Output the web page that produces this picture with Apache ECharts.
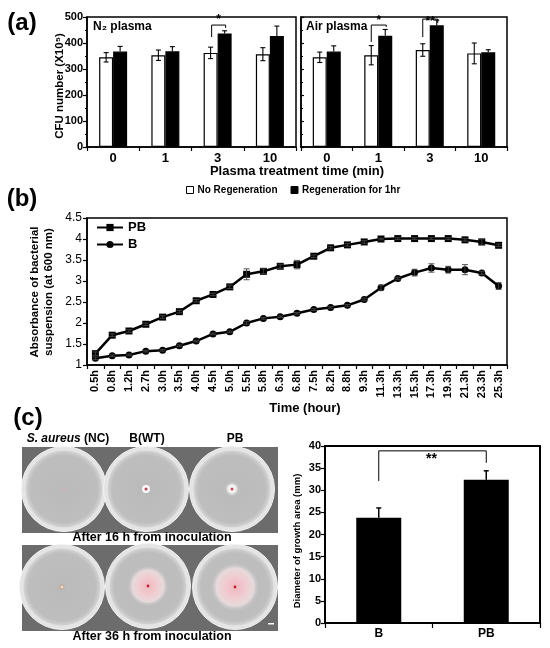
<!DOCTYPE html>
<html><head><meta charset="utf-8">
<script src="https://cdn.jsdelivr.net/npm/echarts@6/dist/echarts.min.js"></script>
<style>html,body{margin:0;padding:0;background:#fff}#c{width:550px;height:648px}</style>
</head><body><div id="c"></div>
<script>
// ---------- DATA ----------
const catA = ['0', '1', '3', '10'];
const n2No = [345, 353, 362, 357];
const n2NoErr = [18, 20, 22, 25];
const n2Reg = [367, 368, 437, 427];
const n2RegErr = [20, 18, 10, 38];
const airNo = [345, 353, 373, 360];
const airNoErr = [20, 37, 24, 40];
const airReg = [367, 428, 468, 364];
const airRegErr = [22, 24, 20, 10];
// [category index, bracket top, left leg bottom, right leg bottom]
const n2Brackets = [[2, 469, 423, 458]];
const n2BracketLabels = ['*'];
const airBrackets = [[1, 469, 404, 462], [2, 492, 423, 477]];
const airBracketLabels = ['*', '**'];

const times = ['0.5h','0.8h','1.2h','2.7h','3.0h','3.5h','4.0h','4.5h','5.0h','5.5h','5.8h','6.3h','6.8h','7.5h','8.2h','8.8h','9.3h','11.3h','13.3h','15.3h','17.3h','19.3h','21.3h','23.3h','25.3h'];
const pb = [1.27, 1.71, 1.81, 1.97, 2.14, 2.27, 2.53, 2.68, 2.86, 3.16, 3.23, 3.35, 3.39, 3.59, 3.79, 3.86, 3.93, 4.00, 4.01, 4.01, 4.01, 4.01, 3.98, 3.93, 3.85];
const pbErr = [0.04, 0.03, 0.03, 0.03, 0.03, 0.03, 0.03, 0.03, 0.04, 0.13, 0.06, 0.05, 0.10, 0.03, 0.03, 0.03, 0.03, 0.02, 0.02, 0.02, 0.02, 0.02, 0.03, 0.07, 0.03];
const bb = [1.16, 1.22, 1.24, 1.33, 1.35, 1.46, 1.57, 1.74, 1.79, 2.00, 2.11, 2.15, 2.23, 2.32, 2.37, 2.42, 2.56, 2.84, 3.06, 3.20, 3.31, 3.27, 3.27, 3.19, 2.88];
const bbErr = [0.03, 0.02, 0.02, 0.02, 0.02, 0.02, 0.02, 0.02, 0.02, 0.03, 0.02, 0.02, 0.02, 0.02, 0.02, 0.02, 0.03, 0.06, 0.03, 0.08, 0.10, 0.08, 0.12, 0.04, 0.08];

const catC = ['B', 'PB'];
const diam = [23.8, 32.4];
const diamErr = [2.2, 2.0];
// [category index, top, left leg bottom, right leg bottom]
const cBracket = [[0, 38.9, 32.1, 36.2]];
const cBracketLabels = ['**'];

// ---------- HELPERS ----------
const FF = '"Liberation Sans", Arial, sans-serif';
function errRender(offset, cap, color, lw, upperOnly) {
  return function (params, api) {
    const i = api.value(0), v = api.value(1), e = api.value(2);
    const top = api.coord([i, v + e]);
    const bot = api.coord([i, upperOnly ? v : v - e]);
    const x = top[0] + offset;
    const st = { stroke: color, lineWidth: lw };
    const ch = [
      { type: 'line', shape: { x1: x, y1: top[1], x2: x, y2: bot[1] }, style: st },
      { type: 'line', shape: { x1: x - cap, y1: top[1], x2: x + cap, y2: top[1] }, style: st }
    ];
    if (!upperOnly) ch.push({ type: 'line', shape: { x1: x - cap, y1: bot[1], x2: x + cap, y2: bot[1] }, style: st });
    return { type: 'group', children: ch };
  };
}
function bracketRender(labels, dxL, dxR, labelDy) {
  return function (params, api) {
    const i = api.value(0);
    const t = api.coord([i, api.value(1)]);
    const l = api.coord([i, api.value(2)]);
    const r = api.coord([i, api.value(3)]);
    const xl = t[0] + dxL, xr = t[0] + dxR;
    const dy = labelDy[params.dataIndex];
    return { type: 'group', children: [
      { type: 'polyline', shape: { points: [[xl, l[1]], [xl, t[1]], [xr, t[1]], [xr, r[1]]] }, style: { stroke: '#000', lineWidth: 1, fill: null } },
      { type: 'text', x: (xl + xr) / 2, y: t[1] + dy, style: { text: labels[params.dataIndex], font: 'bold 12px ' + FF, fill: '#000', textAlign: 'center', textVerticalAlign: 'middle' } }
    ] };
  };
}
function cBracketRender(params, api) {
  const t0 = api.coord([0, api.value(1)]);
  const l = api.coord([0, api.value(2)]);
  const r = api.coord([1, api.value(3)]);
  const xl = t0[0], xr = r[0];
  return { type: 'group', children: [
    { type: 'polyline', shape: { points: [[xl, l[1]], [xl, t0[1]], [xr, t0[1]], [xr, r[1]]] }, style: { stroke: '#000', lineWidth: 1, fill: null } },
    { type: 'text', x: (xl + xr) / 2 - 1, y: t0[1] + 8, style: { text: cBracketLabels[params.dataIndex], font: 'bold 14px ' + FF, fill: '#000', textAlign: 'center', textVerticalAlign: 'middle' } }
  ] };
}
const tri = (vals, errs) => vals.map((v, k) => [k, v, errs[k]]);

const axLine = { show: true, lineStyle: { color: '#000', width: 1.5 } };
const tick = (len, inside) => ({ show: true, length: len, inside: !!inside, lineStyle: { color: '#000', width: 1.2 } });
const lbl = (fs, bold) => ({ fontSize: fs, fontWeight: bold ? 'bold' : 'normal', color: '#000', fontFamily: FF });

// ---------- PETRI DISH PHOTO (decorative) ----------
const graphics = [];
function txt(x, y, text, font, extra) {
  graphics.push(Object.assign({ type: 'text', x: x, y: y, style: { text: text, font: font, fill: '#000', textAlign: 'center', textVerticalAlign: 'middle' }, z: 100 }, extra || {}));
}
[[22, 447], [22, 545]].forEach(p => graphics.push({ type: 'rect', shape: { x: p[0], y: p[1], width: 256, height: 86 }, style: { fill: '#6c6c6c' }, z: 1 }));
const dishPos = [[64, 489], [146, 489], [232, 489], [62, 587], [148, 586], [235, 587]];
dishPos.forEach(p => {
  graphics.push({ type: 'circle', shape: { cx: p[0], cy: p[1], r: 42.5 }, style: { fill: '#e4e4e4', stroke: '#f2f2f2', lineWidth: 1 }, z: 2 });
  graphics.push({ type: 'circle', shape: { cx: p[0], cy: p[1], r: 38.5 }, style: { fill: { type: 'radial', x: 0.5, y: 0.5, r: 0.5, colorStops: [{ offset: 0, color: '#bababa' }, { offset: 0.88, color: '#bebebe' }, { offset: 1, color: '#d4d4d4' }] } }, z: 3 });
});
// growth spots
graphics.push({ type: 'circle', shape: { cx: 64, cy: 489, r: 1 }, style: { fill: '#e8b0a8' }, z: 5 });
graphics.push({ type: 'circle', shape: { cx: 146, cy: 489, r: 4 }, style: { fill: '#fafafa' }, z: 5 });
graphics.push({ type: 'circle', shape: { cx: 146, cy: 489, r: 1.5 }, style: { fill: '#c04050' }, z: 6 });
graphics.push({ type: 'circle', shape: { cx: 232, cy: 489, r: 8 }, style: { fill: { type: 'radial', x: 0.5, y: 0.5, r: 0.5, colorStops: [{ offset: 0, color: '#ffffff' }, { offset: 0.5, color: '#eeeeee' }, { offset: 1, color: 'rgba(186,186,186,0)' }] } }, z: 5 });
graphics.push({ type: 'circle', shape: { cx: 232, cy: 489, r: 1.5 }, style: { fill: '#d04050' }, z: 6 });
graphics.push({ type: 'circle', shape: { cx: 62, cy: 587, r: 2 }, style: { fill: '#f0e0d0', stroke: '#c09070', lineWidth: 0.8 }, z: 5 });
[[148, 586, 21], [235, 587, 25]].forEach(h => {
  graphics.push({ type: 'circle', shape: { cx: h[0], cy: h[1], r: h[2] }, style: { fill: { type: 'radial', x: 0.5, y: 0.5, r: 0.5, colorStops: [{ offset: 0, color: '#f0b8be' }, { offset: 0.45, color: '#f0ccd0' }, { offset: 0.75, color: '#e6dadb' }, { offset: 1, color: 'rgba(190,190,190,0)' }] } }, z: 5 });
  graphics.push({ type: 'circle', shape: { cx: h[0], cy: h[1], r: 1.4 }, style: { fill: '#c02030' }, z: 6 });
});
graphics.push({ type: 'rect', shape: { x: 268, y: 623, width: 6, height: 1.5 }, style: { fill: '#fff' }, z: 6 });

// texts
txt(22, 23, '(a)', 'bold 24px ' + FF);
txt(22, 199, '(b)', 'bold 24px ' + FF);
txt(28, 418, '(c)', 'bold 24px ' + FF);
graphics.push({ type: 'text', x: 93, y: 27, style: { text: 'N₂ plasma', font: 'bold 12px ' + FF, fill: '#000', textAlign: 'left', textVerticalAlign: 'middle' }, z: 100 });
graphics.push({ type: 'text', x: 306, y: 27, style: { text: 'Air plasma', font: 'bold 12px ' + FF, fill: '#000', textAlign: 'left', textVerticalAlign: 'middle' }, z: 100 });
txt(297, 171, 'Plasma treatment time (min)', 'bold 13px ' + FF);
txt(60, 86, 'CFU number (X10⁵)', 'bold 11.5px ' + FF, { rotation: Math.PI / 2 });
txt(42, 292, 'Absorbance of bacterial\nsuspension (at 600 nm)', 'bold 11.5px ' + FF, { rotation: Math.PI / 2 });
graphics[graphics.length - 1].style.lineHeight = 14;
txt(305, 408, 'Time (hour)', 'bold 13px ' + FF);
txt(297, 541, 'Diameter of growth area (mm)', 'bold 9.5px ' + FF, { rotation: Math.PI / 2 });
graphics.push({ type: 'text', x: 68, y: 439, style: { rich: { i: { fontStyle: 'italic', fontWeight: 'bold', fontSize: 12, fontFamily: FF }, n: { fontWeight: 'bold', fontSize: 12, fontFamily: FF } }, text: '{i|S. aureus} {n|(NC)}', fill: '#000', textAlign: 'center', textVerticalAlign: 'middle' }, z: 100 });
txt(147, 439, 'B(WT)', 'bold 12px ' + FF);
txt(235, 439, 'PB', 'bold 12px ' + FF);
txt(152, 538, 'After 16 h from inoculation', 'bold 12.5px ' + FF);
txt(152, 637, 'After 36 h from inoculation', 'bold 12.5px ' + FF);

// ---------- OPTION ----------
const gridBase = { show: true, borderColor: '#000', borderWidth: 1.5, backgroundColor: 'transparent', containLabel: false };
const option = {
  animation: false,
  backgroundColor: '#fff',
  textStyle: { fontFamily: FF },
  graphic: graphics,
  legend: [
    { data: ['No Regeneration', 'Regeneration for 1hr'], left: 186, top: 185, padding: 0, itemWidth: 7, itemHeight: 7, itemGap: 13, icon: 'rect', selectedMode: false, itemStyle: { borderColor: '#000', borderWidth: 1 }, textStyle: { fontSize: 10, fontWeight: 'bold', color: '#000', fontFamily: FF, padding: [0, 0, 0, -1] } },
    { data: ['PB', 'B'], orient: 'vertical', left: 96, top: 221, padding: 0, itemWidth: 26, itemHeight: 9, itemGap: 4, selectedMode: false, textStyle: { fontSize: 13, fontWeight: 'bold', color: '#000', fontFamily: FF } }
  ],
  grid: [
    Object.assign({ left: 87, top: 17, width: 209, height: 130 }, gridBase),
    Object.assign({ left: 301, top: 17, width: 206, height: 130 }, gridBase),
    Object.assign({ left: 87, top: 218, width: 420, height: 147 }, gridBase),
    Object.assign({ left: 325, top: 446, width: 215, height: 177 }, gridBase, { borderWidth: 2 })
  ],
  xAxis: [
    { gridIndex: 0, type: 'category', data: catA, axisLine: axLine, axisTick: tick(4), axisLabel: Object.assign(lbl(13, true), { margin: 5 }) },
    { gridIndex: 1, type: 'category', data: catA, axisLine: axLine, axisTick: tick(4), axisLabel: Object.assign(lbl(13, true), { margin: 5 }) },
    { gridIndex: 2, type: 'category', data: times, axisLine: axLine, axisTick: tick(4), axisLabel: Object.assign(lbl(11, true), { rotate: 90, interval: 0, margin: 5 }) },
    { gridIndex: 3, type: 'category', data: catC, axisLine: { show: true, lineStyle: { color: '#000', width: 2 } }, axisTick: tick(5), axisLabel: Object.assign(lbl(12, true), { margin: 5 }) }
  ],
  yAxis: [
    { gridIndex: 0, type: 'value', min: 0, max: 500, interval: 100, axisLine: axLine, axisTick: tick(4), minorTick: { show: true, splitNumber: 2, length: 2, lineStyle: { color: '#000' } }, splitLine: { show: false }, axisLabel: Object.assign(lbl(11, true), { margin: 4 }) },
    { gridIndex: 1, type: 'value', min: 0, max: 500, interval: 100, axisLine: axLine, axisTick: tick(3, true), minorTick: { show: true, splitNumber: 2, length: 2, lineStyle: { color: '#000' } }, splitLine: { show: false }, axisLabel: { show: false } },
    { gridIndex: 2, type: 'value', min: 1, max: 4.5, interval: 0.5, axisLine: axLine, axisTick: tick(4), splitLine: { show: false }, axisLabel: Object.assign(lbl(12, false), { margin: 5 }) },
    { gridIndex: 3, type: 'value', min: 0, max: 40, interval: 5, axisLine: { show: true, lineStyle: { color: '#000', width: 2 } }, axisTick: tick(4), splitLine: { show: false }, axisLabel: Object.assign(lbl(11, true), { margin: 4 }) }
  ],
  series: [
    { name: 'No Regeneration', type: 'bar', xAxisIndex: 0, yAxisIndex: 0, data: n2No, barWidth: 14, barGap: '0%', itemStyle: { color: '#fff', borderColor: '#000', borderWidth: 1.2 } },
    { name: 'Regeneration for 1hr', type: 'bar', xAxisIndex: 0, yAxisIndex: 0, data: n2Reg, barWidth: 14, barGap: '0%', itemStyle: { color: '#000', borderColor: '#000', borderWidth: 1.2 } },
    { name: 'No Regeneration', type: 'bar', xAxisIndex: 1, yAxisIndex: 1, data: airNo, barWidth: 14, barGap: '0%', itemStyle: { color: '#fff', borderColor: '#000', borderWidth: 1.2 } },
    { name: 'Regeneration for 1hr', type: 'bar', xAxisIndex: 1, yAxisIndex: 1, data: airReg, barWidth: 14, barGap: '0%', itemStyle: { color: '#000', borderColor: '#000', borderWidth: 1.2 } },
    { type: 'custom', xAxisIndex: 0, yAxisIndex: 0, data: tri(n2No, n2NoErr), encode: { x: 0, y: 1 }, renderItem: errRender(-7, 2.5, '#000', 1.1, false), z: 10 },
    { type: 'custom', xAxisIndex: 0, yAxisIndex: 0, data: tri(n2Reg, n2RegErr), encode: { x: 0, y: 1 }, renderItem: errRender(7, 2.5, '#000', 1.1, true), z: 10 },
    { type: 'custom', xAxisIndex: 1, yAxisIndex: 1, data: tri(airNo, airNoErr), encode: { x: 0, y: 1 }, renderItem: errRender(-7, 2.5, '#000', 1.1, false), z: 10 },
    { type: 'custom', xAxisIndex: 1, yAxisIndex: 1, data: tri(airReg, airRegErr), encode: { x: 0, y: 1 }, renderItem: errRender(7, 2.5, '#000', 1.1, true), z: 10 },
    { type: 'custom', xAxisIndex: 0, yAxisIndex: 0, data: n2Brackets, encode: { x: 0, y: 1 }, renderItem: bracketRender(n2BracketLabels, -6, 8, [-5]), z: 11 },
    { type: 'custom', xAxisIndex: 1, yAxisIndex: 1, data: airBrackets, encode: { x: 0, y: 1 }, renderItem: bracketRender(airBracketLabels, -7, 8, [-4, 3]), z: 11 },
    { name: 'PB', type: 'line', xAxisIndex: 2, yAxisIndex: 2, data: pb, symbol: 'rect', symbolSize: 7, color: '#000', lineStyle: { color: '#000', width: 2.5 }, itemStyle: { color: '#000' }, z: 5 },
    { name: 'B', type: 'line', xAxisIndex: 2, yAxisIndex: 2, data: bb, symbol: 'circle', symbolSize: 7, color: '#000', lineStyle: { color: '#000', width: 2.5 }, itemStyle: { color: '#000' }, z: 5 },
    { type: 'custom', xAxisIndex: 2, yAxisIndex: 2, data: tri(pb, pbErr), encode: { x: 0, y: 1 }, renderItem: errRender(0, 3, '#444', 0.9, false), z: 6 },
    { type: 'custom', xAxisIndex: 2, yAxisIndex: 2, data: tri(bb, bbErr), encode: { x: 0, y: 1 }, renderItem: errRender(0, 3, '#444', 0.9, false), z: 6 },
    { type: 'bar', xAxisIndex: 3, yAxisIndex: 3, data: diam, barWidth: 45, itemStyle: { color: '#000' } },
    { type: 'custom', xAxisIndex: 3, yAxisIndex: 3, data: tri(diam, diamErr), encode: { x: 0, y: 1 }, renderItem: errRender(0, 2.5, '#000', 1.5, true), z: 10 },
    { type: 'custom', xAxisIndex: 3, yAxisIndex: 3, data: cBracket, encode: { x: 0, y: 1 }, renderItem: cBracketRender, z: 11 }
  ]
};
const chart = echarts.init(document.getElementById('c'), null, { renderer: 'canvas' });
chart.setOption(option);
</script></body></html>
